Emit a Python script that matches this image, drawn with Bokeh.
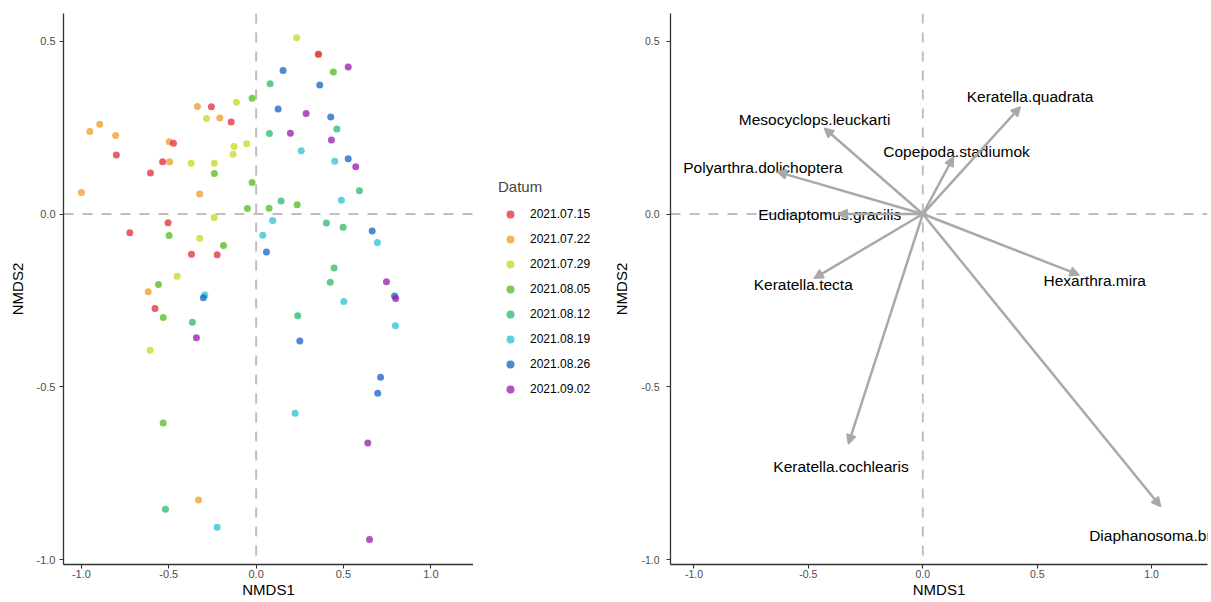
from bokeh.plotting import figure
from bokeh.models import (ColumnDataSource, Range1d, Span, Legend, LegendItem,
                          FixedTicker, NumeralTickFormatter, Arrow, NormalHead)
from bokeh.layouts import row
from bokeh.embed import file_html
from bokeh.resources import INLINE
from bokeh.core.properties import value

FONT = "Liberation Sans"

# Sampling dates and their colours
dates = ["2021.07.15", "2021.07.22", "2021.07.29", "2021.08.05",
         "2021.08.12", "2021.08.19", "2021.08.26", "2021.09.02"]
date_colors = ["#E02B38", "#EE9B28", "#C7D81A", "#52B81C",
               "#27BA68", "#2AC0D0", "#1263C4", "#9818AB"]

# NMDS site scores per sampling date
nmds1_0715 = [-0.800, -0.605, -0.535, -0.473, -0.256, -0.143, -0.504, -0.723, -0.370, -0.223, -0.579, 0.357]
nmds2_0715 = [0.171, 0.119, 0.151, 0.205, 0.310, 0.266, -0.025, -0.054, -0.116, -0.118, -0.273, 0.462]
nmds1_0722 = [-1.000, -0.952, -0.895, -0.804, -0.495, -0.498, -0.336, -0.208, -0.323, -0.618, -0.330, 0.355]
nmds2_0722 = [0.062, 0.239, 0.260, 0.227, 0.151, 0.209, 0.311, 0.278, 0.058, -0.225, -0.827, 0.462]
nmds1_0729 = [-0.284, -0.113, -0.126, -0.132, -0.054, -0.372, -0.239, -0.240, -0.323, -0.452, -0.607, 0.232]
nmds2_0729 = [0.276, 0.323, 0.195, 0.173, 0.203, 0.147, 0.147, -0.010, -0.070, -0.180, -0.394, 0.510]
nmds1_0805 = [-0.023, -0.239, -0.023, -0.050, -0.498, -0.187, -0.559, -0.532, -0.532, 0.442, 0.235, 0.074]
nmds2_0805 = [0.335, 0.117, 0.091, 0.016, -0.062, -0.091, -0.204, -0.299, -0.604, 0.411, 0.027, 0.017]
nmds1_0812 = [-0.365, -0.519, 0.080, 0.462, 0.076, 0.591, 0.143, 0.402, 0.498, 0.446, 0.424, 0.238]
nmds2_0812 = [-0.313, -0.854, 0.377, 0.246, 0.233, 0.067, 0.038, -0.026, -0.038, -0.156, -0.197, -0.294]
nmds1_0819 = [-0.294, -0.223, 0.258, 0.450, 0.488, 0.095, 0.694, 0.038, 0.502, 0.797, 0.223]
nmds2_0819 = [-0.234, -0.906, 0.183, 0.153, 0.040, -0.019, -0.082, -0.061, -0.253, -0.323, -0.576]
nmds1_0826 = [-0.302, 0.154, 0.364, 0.126, 0.427, 0.527, 0.664, 0.059, 0.792, 0.250, 0.712, 0.696]
nmds2_0826 = [-0.242, 0.415, 0.373, 0.304, 0.281, 0.160, -0.049, -0.110, -0.237, -0.367, -0.472, -0.518]
nmds1_0902 = [-0.342, 0.527, 0.286, 0.196, 0.431, 0.570, 0.746, 0.799, 0.639, 0.649]
nmds2_0902 = [-0.358, 0.425, 0.291, 0.234, 0.214, 0.137, -0.196, -0.244, -0.662, -0.941]

site_x = [nmds1_0715, nmds1_0722, nmds1_0729, nmds1_0805,
          nmds1_0812, nmds1_0819, nmds1_0826, nmds1_0902]
site_y = [nmds2_0715, nmds2_0722, nmds2_0729, nmds2_0805,
          nmds2_0812, nmds2_0819, nmds2_0826, nmds2_0902]

# Species vectors (envfit-style loadings)
species = ["Keratella.quadrata", "Mesocyclops.leuckarti", "Copepoda.stadiumok",
           "Polyarthra.dolichoptera", "Eudiaptomus.gracilis", "Keratella.tecta",
           "Hexarthra.mira", "Keratella.cochlearis", "Diaphanosoma.brachyurum"]
vec_nmds1 = [0.426, -0.430, 0.134, -0.635, -0.370, -0.475, 0.683, -0.325, 1.039]
vec_nmds2 = [0.310, 0.248, 0.165, 0.122, 0.000, -0.186, -0.176, -0.665, -0.846]

# Tick positions
x_ticks = [-1.0, -0.5, 0.0, 0.5, 1.0]
y_ticks = [-1.0, -0.5, 0.0, 0.5]

X_LIM = (-1.1025, 1.244)
Y_LIM = (-1.0136, 0.58)
REF_COLOR = "#BEBEBE"
ARROW_COLOR = "#A9A9A9"
POINT_SIZE = 7
POINT_ALPHA = 0.75


def style(p, tick_font_size, y_label_standoff, y_title_standoff):
    p.grid.visible = False
    p.outline_line_color = None
    p.background_fill_color = "white"
    p.border_fill_color = "white"
    p.xaxis.ticker = FixedTicker(ticks=x_ticks)
    p.yaxis.ticker = FixedTicker(ticks=y_ticks)
    for ax in p.xaxis + p.yaxis:
        ax.formatter = NumeralTickFormatter(format="0.0")
        ax.axis_line_color = "#333333"
        ax.axis_line_width = 1.3
        ax.major_tick_line_color = "#333333"
        ax.major_tick_line_width = 1.1
        ax.major_tick_out = 4
        ax.major_tick_in = 0
        ax.minor_tick_line_color = None
        ax.major_label_text_font = FONT
        ax.major_label_text_font_size = tick_font_size
        ax.major_label_text_color = "#4D4D4D"
        ax.axis_label_text_font = FONT
        ax.axis_label_text_font_size = "15px"
        ax.axis_label_text_font_style = "normal"
        ax.axis_label_text_color = "black"
    p.xaxis.major_label_standoff = 1
    p.xaxis.axis_label_standoff = 0
    p.yaxis.major_label_standoff = y_label_standoff
    p.yaxis.axis_label_standoff = y_title_standoff
    for dim in ("width", "height"):
        p.add_layout(Span(location=0, dimension=dim, line_color=REF_COLOR,
                          line_width=2, line_dash="10 9", level="underlay"))


# ---- Left panel: site scores coloured by date ----
left = figure(width=473, height=602, x_range=Range1d(*X_LIM), y_range=Range1d(*Y_LIM),
              output_backend="svg", toolbar_location=None,
              min_border_left=63, min_border_right=0, min_border_top=13, min_border_bottom=38,
              x_axis_label="NMDS1", y_axis_label="NMDS2")
style(left, "11px", 4, 8)

draw_order = [1, 0, 2, 3, 4, 5, 6, 7]
for i in draw_order:
    src = ColumnDataSource(dict(x=site_x[i], y=site_y[i]))
    left.scatter("x", "y", source=src, size=POINT_SIZE, fill_color=date_colors[i],
                 fill_alpha=POINT_ALPHA, line_color=None)

# ---- Legend strip between the two panels ----
key = figure(width=137, height=602, x_range=Range1d(0, 1), y_range=Range1d(0, 1),
             output_backend="svg", toolbar_location=None,
             x_axis_location=None, y_axis_location=None,
             min_border_left=0, min_border_right=0, min_border_top=0, min_border_bottom=0)
key.grid.visible = False
key.outline_line_color = None
key_renderers = []
for i, d in enumerate(dates):
    # a single missing point: nothing is plotted, but the legend swatch keeps the glyph style
    blank = ColumnDataSource(dict(x=[float("nan")], y=[float("nan")]))
    key_renderers.append(key.scatter("x", "y", source=blank, size=POINT_SIZE,
                                     fill_color=date_colors[i], fill_alpha=POINT_ALPHA,
                                     line_color=None))
legend = Legend(items=[LegendItem(label=d, renderers=[key_renderers[i]]) for i, d in enumerate(dates)],
                location=(25, 165), title="Datum",
                title_text_font=FONT, title_text_font_size="15px", title_text_font_style="normal",
                title_standoff=9,
                label_text_font=FONT, label_text_font_size="12px", label_text_color="black",
                glyph_width=24, glyph_height=20, label_height=20, label_standoff=8,
                spacing=5, padding=10, margin=0,
                border_line_color=None, background_fill_alpha=0)
key.add_layout(legend, "center")

# ---- Right panel: species vectors ----
right = figure(width=601, height=602, x_range=Range1d(*X_LIM), y_range=Range1d(*Y_LIM),
               output_backend="svg", toolbar_location=None,
               min_border_left=59, min_border_right=4, min_border_top=13, min_border_bottom=38,
               x_axis_label="NMDS1", y_axis_label="NMDS2")
style(right, "10.5px", 7, 8)

vec_src = ColumnDataSource(dict(
    x0=[0.0] * len(species), y0=[0.0] * len(species),
    x=vec_nmds1, y=vec_nmds2,
    lx=[v * 1.1 for v in vec_nmds1], ly=[v * 1.1 for v in vec_nmds2],
    name=species,
))
right.text(x="lx", y="ly", text="name", source=vec_src, text_font=value(FONT),
           text_font_size="15.5px", text_align="center", text_baseline="middle",
           text_color="black")
right.add_layout(Arrow(source=vec_src, x_start="x0", y_start="y0", x_end="x", y_end="y",
                       line_color=ARROW_COLOR, line_width=2.5,
                       end=NormalHead(size=9, fill_color=ARROW_COLOR, line_color=ARROW_COLOR,
                                      line_width=1.5)))

layout = row(left, key, right)
open("out.html", "w").write(file_html(layout, INLINE))
